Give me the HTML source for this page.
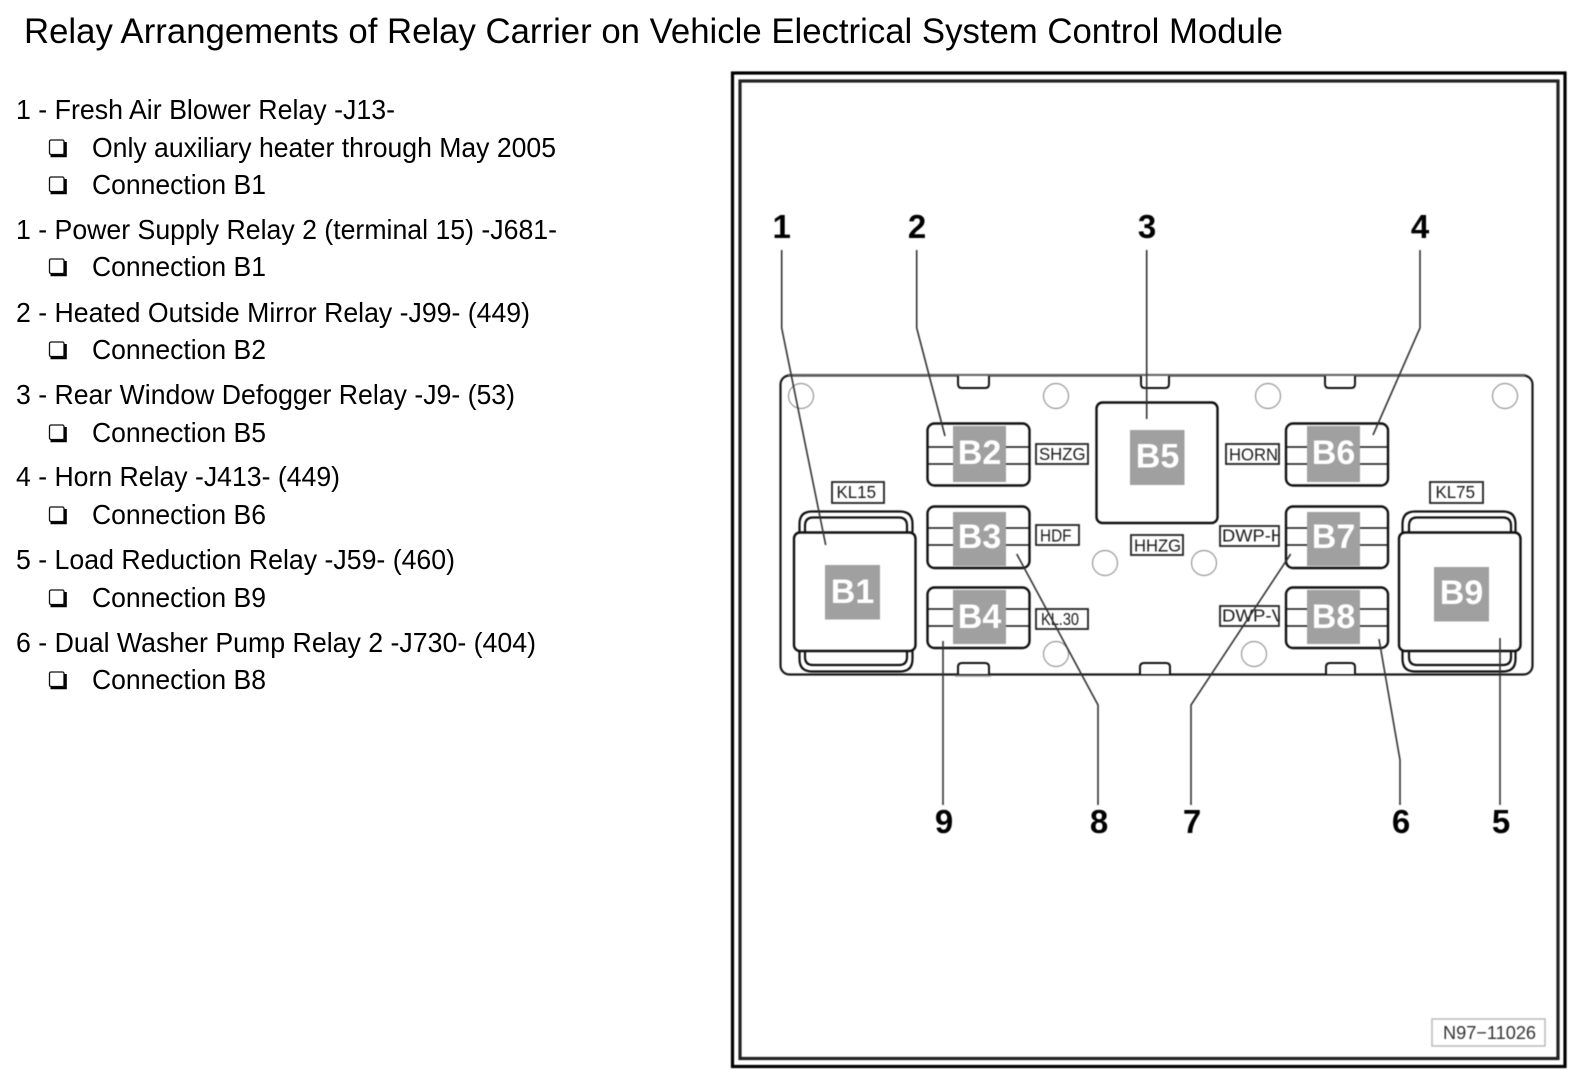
<!DOCTYPE html>
<html>
<head>
<meta charset="utf-8">
<style>
html,body{margin:0;padding:0;background:#fff;width:1578px;height:1080px;overflow:hidden}
svg{display:block;position:absolute;left:0;top:0}
text{font-family:"Liberation Sans",Arial,sans-serif}
.t{font-size:27.5px;fill:#000}
.r{font-size:34px;font-weight:bold;fill:#fff;text-anchor:middle}
.n{font-size:33px;font-weight:bold;fill:#000;text-anchor:middle}
.l{font-size:17.5px;fill:#1a1a1a}
.bx{fill:#fff;stroke:#222;stroke-width:1.8}
.relay{fill:#fff;stroke:#111;stroke-width:2.4}
.ln{stroke:#111;stroke-width:1.6}
.g{fill:#a0a0a0}
.c{fill:#fff;stroke:#999;stroke-width:1.2}
.lead{fill:none;stroke:#333;stroke-width:1.6}
.clip{fill:#fff;stroke:#111;stroke-width:2.2}
.d{filter:blur(.4px)}
.x{filter:blur(.25px)}
</style>
</head>
<body>
<svg width="1578" height="1080" viewBox="0 0 1578 1080" xmlns="http://www.w3.org/2000/svg">
<defs>
<g id="cb">
<rect x="49.5" y="-17" width="14.5" height="14.5" rx="1.5" fill="#fff" stroke="#111" stroke-width="1.3"/>
<path d="M50.5 -1H65.5V-15" fill="none" stroke="#000" stroke-width="2.6"/>
</g>
</defs>

<g class="x">
<text x="24" y="43" font-size="35.5" fill="#000" textLength="1259" lengthAdjust="spacingAndGlyphs">Relay Arrangements of Relay Carrier on Vehicle Electrical System Control Module</text>

<text class="t" x="16" y="119" textLength="379" lengthAdjust="spacingAndGlyphs">1 - Fresh Air Blower Relay -J13-</text>
<use href="#cb" y="157"/><text class="t" x="92" y="157" textLength="464" lengthAdjust="spacingAndGlyphs">Only auxiliary heater through May 2005</text>
<use href="#cb" y="194"/><text class="t" x="92" y="194" textLength="174" lengthAdjust="spacingAndGlyphs">Connection B1</text>
<text class="t" x="16" y="239" textLength="541" lengthAdjust="spacingAndGlyphs">1 - Power Supply Relay 2 (terminal 15) -J681-</text>
<use href="#cb" y="276"/><text class="t" x="92" y="276" textLength="174" lengthAdjust="spacingAndGlyphs">Connection B1</text>
<text class="t" x="16" y="322" textLength="514" lengthAdjust="spacingAndGlyphs">2 - Heated Outside Mirror Relay -J99- (449)</text>
<use href="#cb" y="359"/><text class="t" x="92" y="359" textLength="174" lengthAdjust="spacingAndGlyphs">Connection B2</text>
<text class="t" x="16" y="404" textLength="499" lengthAdjust="spacingAndGlyphs">3 - Rear Window Defogger Relay -J9- (53)</text>
<use href="#cb" y="442"/><text class="t" x="92" y="442" textLength="174" lengthAdjust="spacingAndGlyphs">Connection B5</text>
<text class="t" x="16" y="486" textLength="324" lengthAdjust="spacingAndGlyphs">4 - Horn Relay -J413- (449)</text>
<use href="#cb" y="524"/><text class="t" x="92" y="524" textLength="174" lengthAdjust="spacingAndGlyphs">Connection B6</text>
<text class="t" x="16" y="569" textLength="439" lengthAdjust="spacingAndGlyphs">5 - Load Reduction Relay -J59- (460)</text>
<use href="#cb" y="607"/><text class="t" x="92" y="607" textLength="174" lengthAdjust="spacingAndGlyphs">Connection B9</text>
<text class="t" x="16" y="652" textLength="520" lengthAdjust="spacingAndGlyphs">6 - Dual Washer Pump Relay 2 -J730- (404)</text>
<use href="#cb" y="689"/><text class="t" x="92" y="689" textLength="174" lengthAdjust="spacingAndGlyphs">Connection B8</text>
</g>

<g class="d">
<!-- frame -->
<rect x="732.5" y="73" width="832.5" height="993.5" fill="none" stroke="#000" stroke-width="3.2"/>
<rect x="740" y="81" width="818" height="977.5" fill="none" stroke="#222" stroke-width="3.2"/>

<!-- panel -->
<rect x="780.5" y="375.5" width="752" height="299" rx="9" fill="#fff" stroke="#1a1a1a" stroke-width="2.2"/>
<path d="M788 375H1525" stroke="#666" stroke-width="2.2" fill="none"/>

<!-- tabs -->
<g fill="#fff" stroke="#111" stroke-width="2">
<path d="M958 376V384Q958 388 962 388H985Q989 388 989 384V376"/>
<path d="M1141 376V384Q1141 388 1145 388H1165Q1169 388 1169 384V376"/>
<path d="M1325 376V384Q1325 388 1329 388H1351Q1355 388 1355 384V376"/>
<path d="M958 674V667Q958 663 962 663H985Q989 663 989 667V674"/>
<path d="M1140 674V667Q1140 663 1144 663H1166Q1170 663 1170 667V674"/>
<path d="M1326 674V667Q1326 663 1330 663H1351Q1355 663 1355 667V674"/>
</g>
<path d="M955 676H991" stroke="#999" stroke-width="1.5"/>

<!-- circles -->
<circle class="c" cx="801" cy="396" r="12.5"/>
<circle class="c" cx="1056" cy="396" r="12.5"/>
<circle class="c" cx="1268" cy="396" r="12.5"/>
<circle class="c" cx="1505" cy="396" r="12.5"/>
<circle class="c" cx="1105" cy="563" r="12.5"/>
<circle class="c" cx="1204" cy="563" r="12.5"/>
<circle class="c" cx="1056" cy="654" r="12.5"/>
<circle class="c" cx="1254" cy="654" r="12.5"/>

<!-- labels -->
<rect class="bx" x="832" y="482" width="52" height="21"/>
<text class="l" x="836.5" y="498" textLength="39.5" lengthAdjust="spacingAndGlyphs">KL15</text>
<rect class="bx" x="1430" y="482" width="53" height="21"/>
<text class="l" x="1435.5" y="498" textLength="39.5" lengthAdjust="spacingAndGlyphs">KL75</text>
<rect class="bx" x="1036" y="444" width="52" height="20"/>
<text class="l" x="1039" y="460" textLength="46.5" lengthAdjust="spacingAndGlyphs">SHZG</text>
<rect class="bx" x="1036" y="525" width="43" height="20"/>
<text class="l" x="1040" y="541.5" textLength="31.5" lengthAdjust="spacingAndGlyphs">HDF</text>
<rect class="bx" x="1036" y="609" width="52" height="20"/>
<text class="l" x="1041" y="625" textLength="38" lengthAdjust="spacingAndGlyphs">KL.30</text>
<rect class="bx" x="1131" y="535" width="52" height="20"/>
<text class="l" x="1134" y="551.5" textLength="47" lengthAdjust="spacingAndGlyphs">HHZG</text>
<rect class="bx" x="1226" y="444" width="53" height="20"/>
<text class="l" x="1229" y="460.5" textLength="49" lengthAdjust="spacingAndGlyphs">HORN</text>
<rect class="bx" x="1220" y="526" width="59" height="20"/>
<text class="l" x="1222" y="541.5" textLength="62" lengthAdjust="spacingAndGlyphs">DWP-H</text>
<rect class="bx" x="1220" y="606" width="59" height="20"/>
<text class="l" x="1222" y="621.5" textLength="62" lengthAdjust="spacingAndGlyphs">DWP-V</text>
<rect x="1279.9" y="524" width="7" height="104" fill="#fff"/>

<!-- B1 -->
<path class="clip" d="M799.5 532V524Q799.5 511.5 812 511.5H900Q912.5 511.5 912.5 524V532"/>
<path class="clip" d="M805 532V526Q805 517.5 813 517.5H899Q907 517.5 907 526V532"/>
<path class="clip" d="M799.5 651V659Q799.5 671.5 812 671.5H900Q912.5 671.5 912.5 659V651"/>
<path class="clip" d="M805 651V657Q805 665 813 665H899Q907 665 907 657V651"/>
<rect class="relay" x="794" y="532.5" width="121.5" height="118.5" rx="6" stroke-width="2.8"/>
<rect class="g" x="825" y="565" width="55" height="54.5"/>
<text class="r" x="852.5" y="603">B1</text>

<!-- B9 -->
<path class="clip" d="M1402.5 532V524Q1402.5 511.5 1415 511.5H1503Q1515.5 511.5 1515.5 524V532"/>
<path class="clip" d="M1409 532V526Q1409 517.5 1417 517.5H1503Q1511 517.5 1511 526V532"/>
<path class="clip" d="M1402.5 651V659Q1402.5 671.5 1415 671.5H1503Q1515.5 671.5 1515.5 659V651"/>
<path class="clip" d="M1409 651V657Q1409 665 1417 665H1503Q1511 665 1511 657V651"/>
<rect class="relay" x="1399" y="532.5" width="121.5" height="118.5" rx="6" stroke-width="2.8"/>
<rect class="g" x="1434" y="567" width="55" height="54.5"/>
<text class="r" x="1461.5" y="604">B9</text>

<!-- B5 -->
<rect class="relay" x="1096.5" y="402.5" width="121" height="120.5" rx="6"/>
<rect class="g" x="1130" y="430" width="54.5" height="55"/>
<text class="r" x="1157.5" y="467.5">B5</text>

<!-- small relays left -->
<rect class="relay" x="927.5" y="423.5" width="102" height="62" rx="7"/>
<path class="ln" d="M928 447H1029M928 464H1029"/>
<rect class="g" x="953" y="426" width="53" height="56"/>
<text class="r" x="979.5" y="464">B2</text>

<rect class="relay" x="927.5" y="506.5" width="102" height="61.5" rx="7"/>
<path class="ln" d="M928 528H1029M928 545H1029"/>
<rect class="g" x="953" y="512" width="53" height="54"/>
<text class="r" x="979.5" y="548">B3</text>

<rect class="relay" x="927.5" y="587.5" width="102" height="60.5" rx="7"/>
<path class="ln" d="M928 609H1029M928 626H1029"/>
<rect class="g" x="953" y="590" width="53" height="54"/>
<text class="r" x="979.5" y="628">B4</text>

<!-- small relays right -->
<rect class="relay" x="1286" y="423.5" width="102" height="62" rx="7"/>
<path class="ln" d="M1286 447H1388M1286 464H1388"/>
<rect class="g" x="1307" y="426" width="53" height="56"/>
<text class="r" x="1333.5" y="464">B6</text>

<rect class="relay" x="1286" y="506.5" width="102" height="61.5" rx="7"/>
<path class="ln" d="M1286 528H1388M1286 545H1388"/>
<rect class="g" x="1307" y="512" width="53" height="54"/>
<text class="r" x="1333.5" y="548">B7</text>

<rect class="relay" x="1286" y="587.5" width="102" height="60.5" rx="7"/>
<path class="ln" d="M1286 609H1388M1286 626H1388"/>
<rect class="g" x="1307" y="590" width="53" height="54"/>
<text class="r" x="1333.5" y="628">B8</text>

<!-- leaders -->
<path class="lead" d="M781.7 250V328L825.7 545"/>
<path class="lead" d="M916.7 250V328L945 436"/>
<path class="lead" d="M1146.7 250V419"/>
<path class="lead" d="M1420 250V328L1373 435"/>
<path class="lead" d="M1500 805V638"/>
<path class="lead" d="M1400 805V760L1379 639"/>
<path class="lead" d="M1191 805V705L1290.7 554"/>
<path class="lead" d="M1098 805V705L1016.7 554"/>
<path class="lead" d="M943 805V641"/>

<!-- numbers -->
<text class="n" x="781.7" y="238">1</text>
<text class="n" x="917" y="238">2</text>
<text class="n" x="1147" y="238">3</text>
<text class="n" x="1420" y="238">4</text>
<text class="n" x="1501" y="833">5</text>
<text class="n" x="1401" y="833">6</text>
<text class="n" x="1192" y="833">7</text>
<text class="n" x="1099" y="833">8</text>
<text class="n" x="944" y="833">9</text>

<!-- figure id -->
<rect x="1432" y="1019" width="113" height="27" fill="#fff" stroke="#bbb" stroke-width="1.5"/>
<text x="1443" y="1039" font-size="18.5" fill="#333" textLength="93" lengthAdjust="spacingAndGlyphs">N97−11026</text>
</g>
</svg>
</body>
</html>
